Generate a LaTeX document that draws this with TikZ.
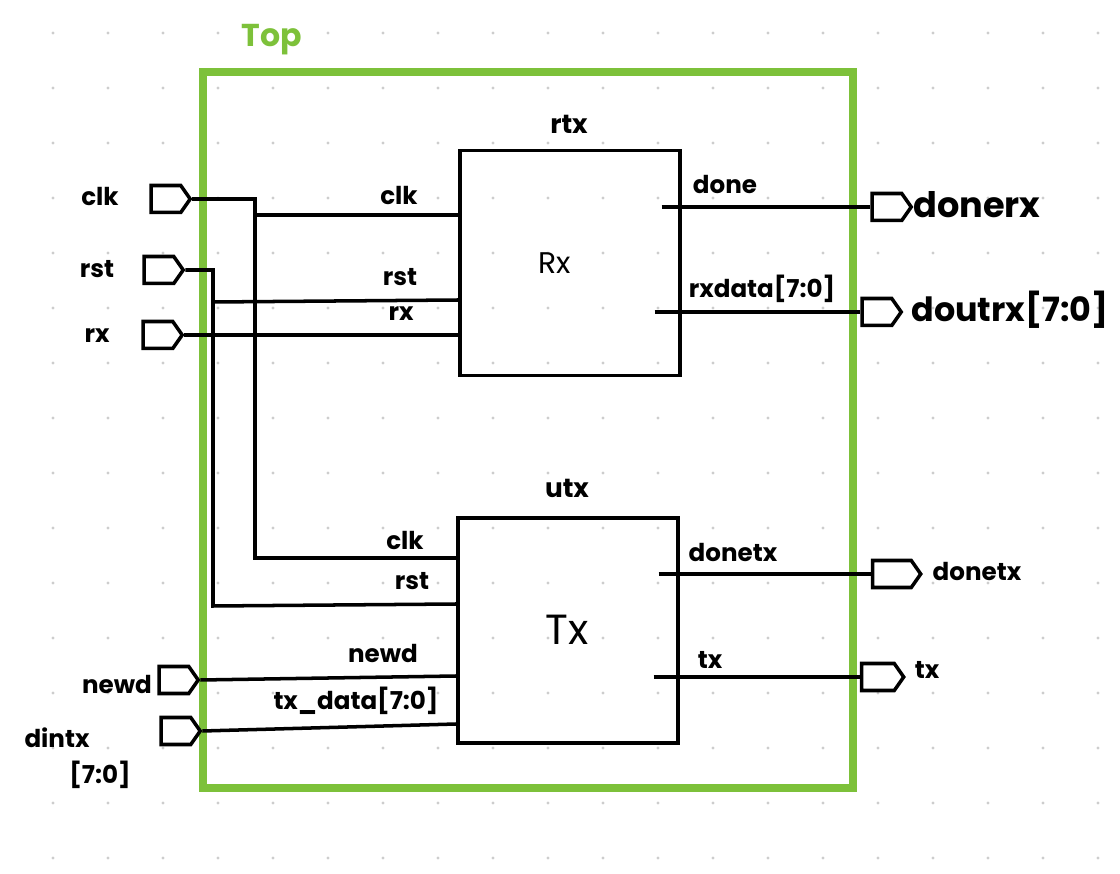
\documentclass[tikz,border=0pt]{standalone}
\usepackage{fontspec}
\setmainfont{Poppins}
\usepackage{tikz}
\usetikzlibrary{shapes.symbols,positioning,calc}
\definecolor{topgreen}{RGB}{125,193,58}
\definecolor{dotgray}{RGB}{205,205,205}
\tikzset{
    wire/.style={
        line width=2pt,
        black
    },
    % ports on the frame
    port/.style={
        draw,
        line width=2pt,
        fill=white,
        signal, signal to=east,
        signal pointer angle=110,
        minimum width=0.78cm,
        minimum height=0.54cm,
        inner sep=0pt
    },
    block/.style={
        draw,
        line width=2pt,
        minimum width=4.4cm,
        minimum height=4.5cm
    },
    pinlabel/.style={font=\fontsize{14}{16}\selectfont\bfseries, inner sep=1pt},
    biglabel/.style={font=\fontsize{20}{24}\selectfont\bfseries, inner sep=1pt}
}

\begin{document}
\begin{tikzpicture}[x=0.02cm, y=-0.02cm]
    \useasboundingbox[fill=white] (0,0) rectangle (1120,874);
    \foreach \i in {0,...,19}
        \foreach \j in {0,...,15}
            \fill[dotgray] (53+55*\i, 33+55*\j) circle (1.6);

    % frame
    \node[draw=topgreen, line width=4.5pt, minimum width=13cm, minimum height=14.32cm] (top) at (528,430) {};
    \node[text=topgreen, font=\fontsize{18}{20}\selectfont\bfseries] (toplbl) at (272,40) {Top};

    % blocks
    \node[block] (rx) at (570,263) {};
    \node[block] (tx) at (568,630.5) {};
    \node[font=\fontsize{15}{18}\selectfont\bfseries] (rxname) at (569,124) {rtx};
    \node[font=\fontsize{15}{18}\selectfont\bfseries] (txname) at (567,488) {utx};
    \node[font=\fontsize{17}{20}\selectfont] (rxtitle) at (555,263) {Rx};
    \node[font=\fontsize{24}{28}\selectfont] (txtitle) at (567,630) {Tx};

    % input ports
    \node[port] (clkin) at (166,199) {};
    \node[port] (rstin) at (159,270) {};
    \node[port] (rxin) at (158,335) {};
    \node[port] (newdin) at (174,680) {};
    \node[port] (dintxin) at (176,731) {};
    \node[pinlabel] (clklbl) at (100,197) {clk};
    \node[pinlabel] (rstlbl) at (97,269) {rst};
    \node[pinlabel] (rxlbl) at (97,336) {rx};
    \node[pinlabel] (newdlbl) at (117,684) {newd};
    \node[pinlabel] (dintxlbl) at (57,738) {dintx};
    \node[pinlabel] (dintxw) at (100,775) {[7:0]};

    % output ports
    \node[port] (donerxout) at (887,207) {};
    \node[port] (doutrxout) at (877,312) {};
    \node[port, minimum width=0.96cm] (donetxout) at (892,574) {};
    \node[port, minimum width=0.84cm] (txout) at (878,677) {};
    \node[biglabel] (donerxlbl) at (977,205) {donerx};
    \node[biglabel, font=\fontsize{19}{22}\selectfont\bfseries] (doutrxlbl) at (1010,310) {doutrx[7:0]};
    \node[pinlabel] (donetxlbl) at (977,571) {donetx};
    \node[pinlabel] (txlbl) at (927,670) {tx};

    % buses
    \coordinate (clkbus) at (255,199);
    \coordinate (rstbus) at (213,270);
    \draw[wire] (clkin.east) -- (clkbus) -- (clkbus |- 0,558) -- (tx.west |- 0,558);
    \draw[wire] (clkbus |- 0,215) -- (rx.west |- 0,215);
    \draw[wire] (rstin.east) -- (rstbus) -- (rstbus |- 0,606) -- (tx.west |- 0,604);
    \draw[wire] (rstbus |- 0,302) -- (rx.west |- 0,300);
    \draw[wire] (rxin.east) -- (rx.west |- rxin.east);
    \draw[wire] (newdin.east) -- (tx.west |- 0,676);
    \draw[wire] (dintxin.east) -- (tx.west |- 0,724);

    % outputs
    \draw[wire] ([xshift=-0.4cm]rx.east |- donerxout.west) -- (donerxout.west);
    \draw[wire] ([xshift=-0.54cm]rx.east |- doutrxout.west) -- (doutrxout.west);
    \draw[wire] ([xshift=-0.42cm]tx.east |- donetxout.west) -- (donetxout.west);
    \draw[wire] ([xshift=-0.52cm]tx.east |- txout.west) -- (txout.west);

    % pin names
    \node[pinlabel] (rxclk) at (399,196) {clk};
    \node[pinlabel] (rxrst) at (400,277) {rst};
    \node[pinlabel] (rxrx) at (401,314) {rx};
    \node[pinlabel] (rxdone) at (725,185) {done};
    \node[pinlabel] (rxdata) at (762,289) {rxdata[7:0]};
    \node[pinlabel] (txclk) at (405,541) {clk};
    \node[pinlabel] (txrst) at (412,581) {rst};
    \node[pinlabel] (txnewd) at (383,653) {newd};
    \node[pinlabel] (txdata) at (356,701) {tx\_data[7:0]};
    \node[pinlabel] (txdone) at (733,553) {donetx};
    \node[pinlabel] (txtx) at (710,660) {tx};
\end{tikzpicture}
\end{document}
